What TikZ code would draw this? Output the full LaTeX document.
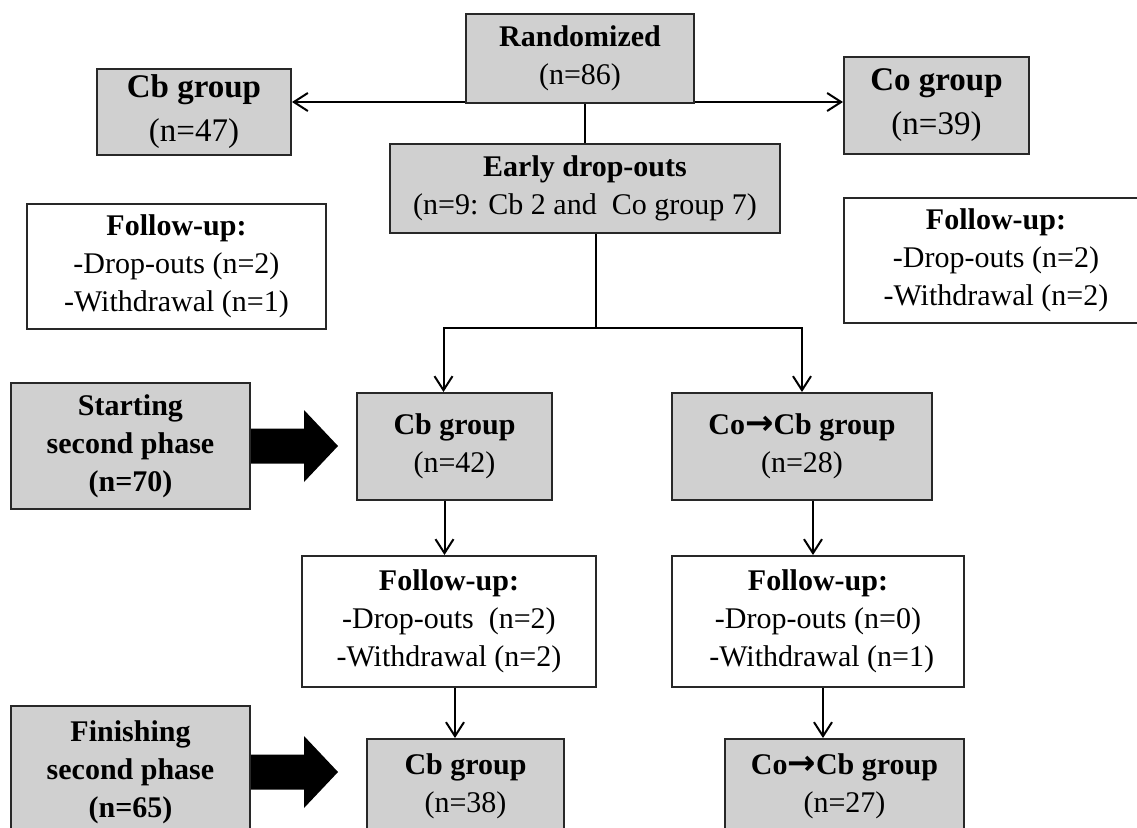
\documentclass[tikz,border=0pt]{standalone}
\usepackage{fontspec}
\setmainfont{Liberation Serif}
\newfontfamily\arrowfont{DejaVu Sans}
\usetikzlibrary{arrows.meta}
\definecolor{boxgray}{RGB}{208,208,208}
\definecolor{edgecol}{RGB}{40,40,40}
\newcommand{\toarrow}{{\arrowfont\bfseries\fontsize{17}{19}\selectfont →}}

\begin{document}
\begin{tikzpicture}[x=0.5pt, y=-0.5pt, line width=1pt,
  every node/.style={font=\fontsize{15}{19}\selectfont, align=center, inner sep=2pt},
  grp/.style={draw=edgecol, fill=boxgray},
  fup/.style={draw=edgecol, fill=white},
  arr/.style={-{Straight Barb[length=7pt, width=9pt]}},
]
\useasboundingbox (0,0) rectangle (1137,827);

% ── first phase ────────────────────────────────────────────
\node[grp, minimum width=114pt, minimum height=44.5pt] (rand) at (580,58.5)
  {\textbf{Randomized}\\(n=86)};
\node[grp, minimum width=97pt, minimum height=43pt,
  font=\fontsize{16.5}{22}\selectfont] (cb1) at (194,112)
  {\textbf{Cb group}\\(n=47)};
\node[grp, minimum width=92.5pt, minimum height=48.5pt,
  font=\fontsize{16.5}{22}\selectfont] (co1) at (936.5,105.5)
  {\textbf{Co group}\\(n=39)};
\node[grp, minimum width=195pt, minimum height=44.5pt] (early) at (585,188.5)
  {\textbf{Early drop-outs}\\(n=9: Cb 2 and\ \ Co group 7)};

% follow-up of the first phase
\node[fup, minimum width=149.5pt, minimum height=62.5pt] (fu1) at (176.5,266.5)
  {\textbf{Follow-up:}\\-Drop-outs (n=2)\\-Withdrawal\ (n=1)};
\node[fup, minimum width=152pt, minimum height=62.5pt] (fu2) at (996,260.5)
  {\textbf{Follow-up:}\\-Drop-outs (n=2)\\-Withdrawal\ (n=2)};

\draw[arr] ([yshift=1pt]rand.south west) -- ([yshift=1pt]rand.south west -| cb1.east);
\draw[arr] ([yshift=1pt]rand.south east) -- ([yshift=1pt]rand.south east -| co1.west);
\draw (early.north |- rand.south) -- (early.north);

% ── second phase ───────────────────────────────────────────
\node[grp, minimum width=119.5pt, minimum height=63pt] (start) at (130.5,446)
  {\textbf{Starting}\\\textbf{second phase}\\\textbf{(n=70)}};
\node[grp, minimum width=97.5pt, minimum height=53.5pt] (cb2) at (454.5,446.5)
  {\textbf{Cb group}\\(n=42)};
\node[grp, minimum width=130pt, minimum height=53.5pt] (cocb2) at (802,446.5)
  {\textbf{Co\toarrow Cb group}\\(n=28)};

\coordinate (split) at (596,328);
\draw (early.south -| split) -- (split);
\draw[arr] (split) -| ([xshift=-5.5pt]cb2.north);
\draw[arr] (split) -| (cocb2.north);

% big arrow
\fill (start.east) ++(0,-17.5) -- ++(53,0) -- ++(0,-18.5) -- ++(34,36)
  -- ++(-34,36) -- ++(0,-18.5) -- ++(-53,0) -- cycle;

\node[fup, minimum width=147pt, minimum height=65.5pt] (fu3) at (449,621.5)
  {\textbf{Follow-up:}\\-Drop-outs\ \ (n=2)\\-Withdrawal\ (n=2)};
\node[fup, minimum width=146pt, minimum height=65.5pt] (fu4) at (818,621.5)
  {\textbf{Follow-up:}\\-Drop-outs (n=0)\\\ -Withdrawal\ (n=1)};

\draw[arr] ([xshift=-5pt]cb2.south) -- ([xshift=-5pt]cb2.south |- fu3.north);
\draw[arr] ([xshift=5.5pt]cocb2.south) -- ([xshift=5.5pt]cocb2.south |- fu4.north);

% ── end of second phase ────────────────────────────────────
\node[grp, minimum width=119.5pt, minimum height=66pt] (finish) at (130.5,772)
  {\textbf{Finishing}\\\textbf{second phase}\\\textbf{(n=65)}};
\node[grp, minimum width=98.5pt, minimum height=47pt] (cb3) at (465.5,786)
  {\textbf{Cb group}\\(n=38)};
\node[grp, minimum width=119.5pt, minimum height=47pt] (cocb3) at (844.5,786)
  {\textbf{Co\toarrow Cb group}\\(n=27)};

\fill (finish.east) ++(0,-17.5) -- ++(53,0) -- ++(0,-18.5) -- ++(34,36)
  -- ++(-34,36) -- ++(0,-18.5) -- ++(-53,0) -- cycle;

\draw[arr] ([xshift=3pt]fu3.south) -- ([xshift=3pt]fu3.south |- cb3.north);
\draw[arr] ([xshift=2.5pt]fu4.south) -- ([xshift=2.5pt]fu4.south |- cocb3.north);

\end{tikzpicture}
\end{document}
